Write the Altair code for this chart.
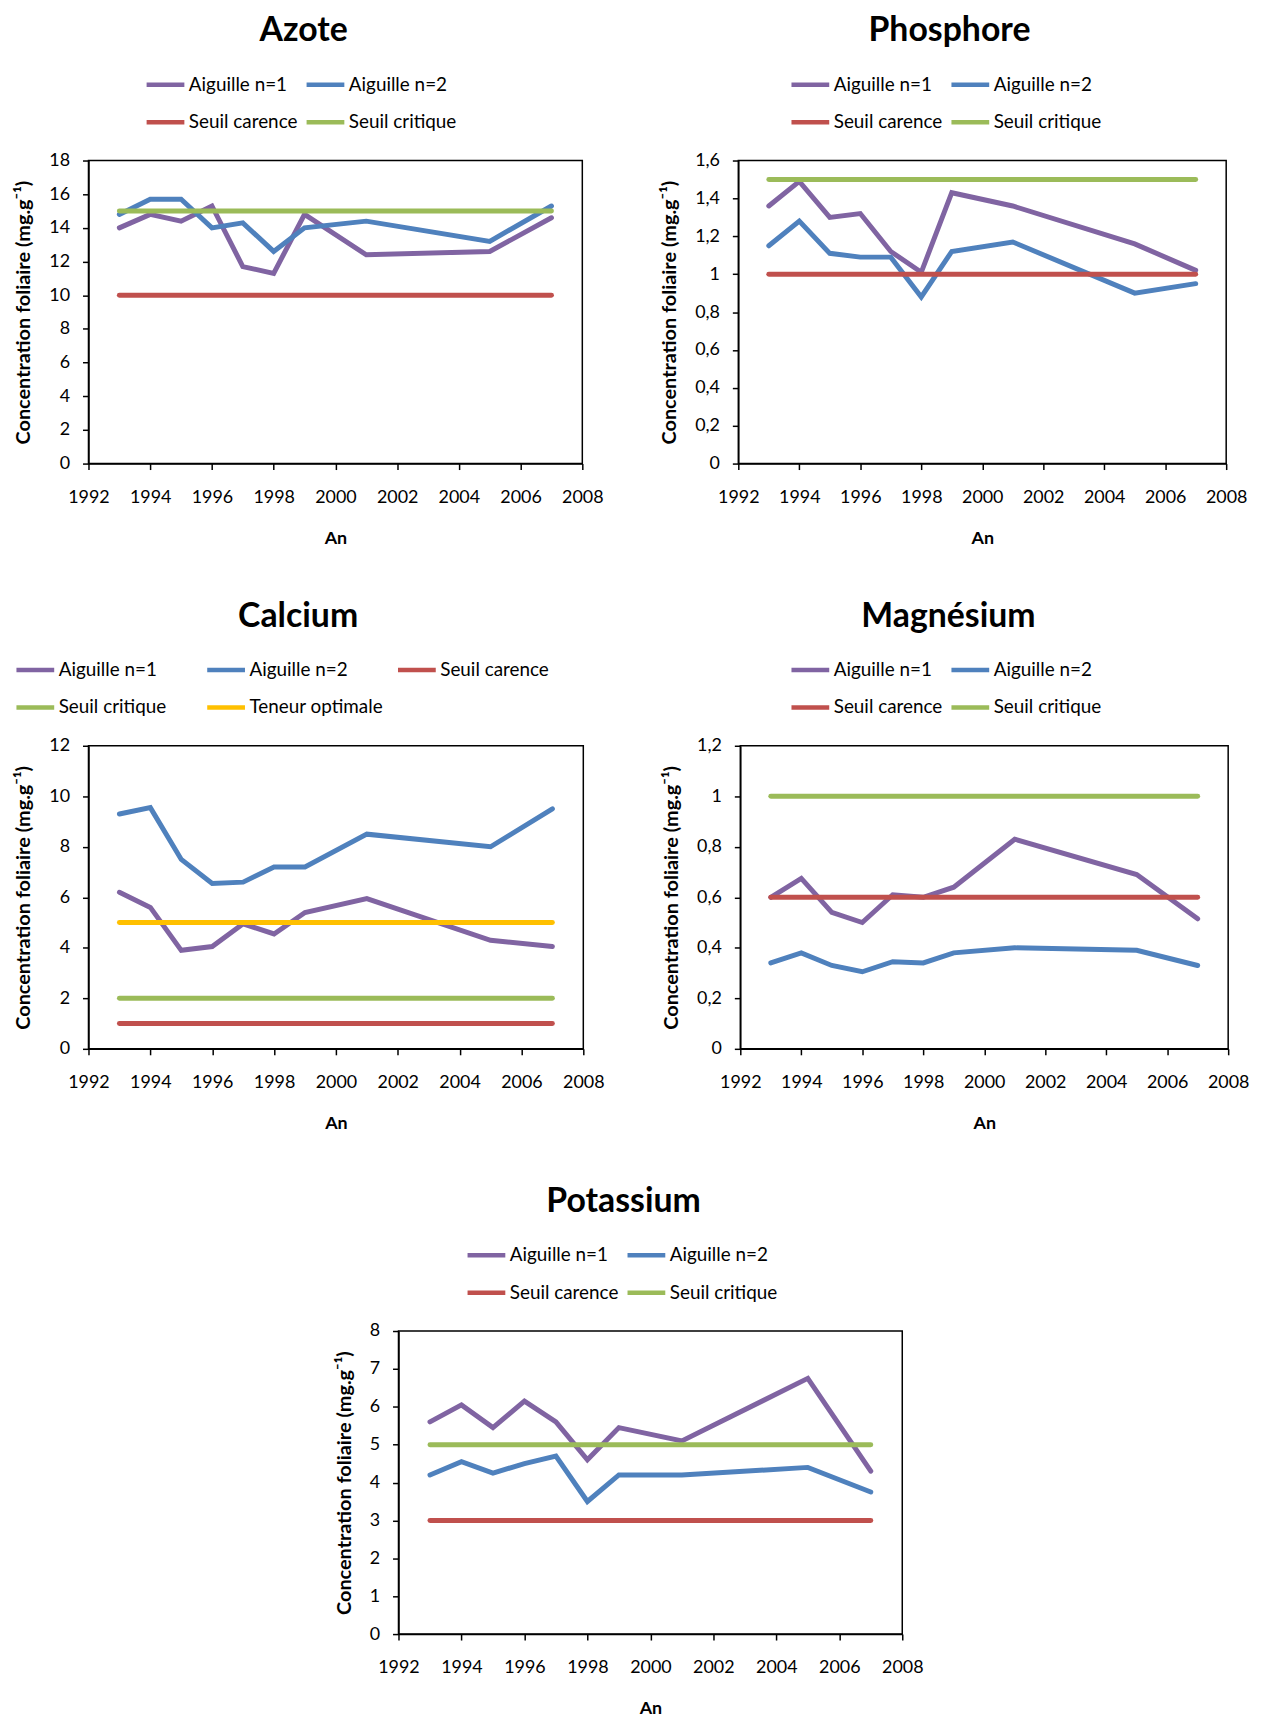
import altair as alt
import pandas as pd

years = [1993, 1994, 1995, 1996, 1997, 1998, 1999, 2001, 2005, 2007]
x_ticks = [1992, 1994, 1996, 1998, 2000, 2002, 2004, 2006, 2008]

# Azote
azote_n1 = [14.0, 14.8, 14.4, 15.3, 11.7, 11.3, 14.8, 12.4, 12.6, 14.6]
azote_n2 = [14.8, 15.7, 15.7, 14.0, 14.3, 12.6, 14.0, 14.4, 13.2, 15.3]
azote_thresholds = [("Seuil carence", 10), ("Seuil critique", 15)]
azote_ticks = [0, 2, 4, 6, 8, 10, 12, 14, 16, 18]

# Phosphore
phos_n1 = [1.36, 1.49, 1.30, 1.32, 1.12, 1.01, 1.43, 1.36, 1.16, 1.02]
phos_n2 = [1.15, 1.28, 1.11, 1.09, 1.09, 0.88, 1.12, 1.17, 0.90, 0.95]
phos_thresholds = [("Seuil carence", 1.0), ("Seuil critique", 1.5)]
phos_ticks = [0, 0.2, 0.4, 0.6, 0.8, 1.0, 1.2, 1.4, 1.6]

# Calcium
ca_n1 = [6.2, 5.6, 3.9, 4.05, 4.95, 4.55, 5.4, 5.95, 4.3, 4.05]
ca_n2 = [9.3, 9.55, 7.5, 6.55, 6.6, 7.2, 7.2, 8.5, 8.0, 9.5]
ca_thresholds = [("Seuil carence", 1), ("Seuil critique", 2), ("Teneur optimale", 5)]
ca_ticks = [0, 2, 4, 6, 8, 10, 12]

# Magnésium
mg_n1 = [0.60, 0.675, 0.54, 0.50, 0.61, 0.60, 0.64, 0.83, 0.69, 0.515]
mg_n2 = [0.34, 0.38, 0.33, 0.305, 0.345, 0.34, 0.38, 0.40, 0.39, 0.33]
mg_thresholds = [("Seuil carence", 0.6), ("Seuil critique", 1.0)]
mg_ticks = [0, 0.2, 0.4, 0.6, 0.8, 1.0, 1.2]

# Potassium
k_n1 = [5.6, 6.05, 5.45, 6.15, 5.6, 4.6, 5.45, 5.1, 6.75, 4.3]
k_n2 = [4.2, 4.55, 4.25, 4.5, 4.7, 3.5, 4.2, 4.2, 4.4, 3.75]
k_thresholds = [("Seuil carence", 3), ("Seuil critique", 5)]
k_ticks = [0, 1, 2, 3, 4, 5, 6, 7, 8]

COLORS = {
    "Aiguille n=1": "#8064A2",
    "Aiguille n=2": "#4F81BD",
    "Seuil carence": "#C0504D",
    "Seuil critique": "#9BBB59",
    "Teneur optimale": "#FFC000",
}

FONT = "Lato"


def panel(title, n1, n2, thresholds, yticks, width, height,
          legend_cols, legend_x, legend_y, title_dx, col_pad=-1, grid_align="each"):
    rows = []
    for y, v in zip(years, n1):
        rows.append({"year": y, "value": v, "series": "Aiguille n=1"})
    for y, v in zip(years, n2):
        rows.append({"year": y, "value": v, "series": "Aiguille n=2"})
    for name, val in thresholds:
        for y in years:
            rows.append({"year": y, "value": val, "series": name})
    df = pd.DataFrame(rows)
    names = ["Aiguille n=1", "Aiguille n=2"] + [n for n, _ in thresholds]

    color = alt.Color(
        "series:N",
        scale=alt.Scale(domain=names, range=[COLORS[n] for n in names]),
        legend=alt.Legend(
            title=None, orient="none", legendX=legend_x, legendY=legend_y,
            direction="horizontal", columns=legend_cols, symbolType="stroke",
            symbolSize=1444, symbolStrokeWidth=4.5, labelFontSize=19,
            labelFont=FONT, labelColor="black", labelOffset=2,
            columnPadding=col_pad, rowPadding=6, gridAlign=grid_align,
        ),
    )
    x = alt.X(
        "year:Q",
        scale=alt.Scale(domain=[1992, 2008], nice=False, zero=False),
        axis=alt.Axis(values=x_ticks, format="d", title="An", grid=False,
                      labelFontSize=18, titleFontSize=18, titleFontWeight="bold",
                      tickSize=6, labelPadding=19, titlePadding=23, labelFlush=False),
    )
    y = alt.Y(
        "value:Q",
        scale=alt.Scale(domain=[0, yticks[-1]], nice=False),
        axis=alt.Axis(values=yticks,
                      labelExpr="replace(format(datum.value, '.1~f'), '.', ',')",
                      title="Concentration foliaire (mg.g⁻¹)", grid=False,
                      labelFontSize=18, titleFontSize=20, titleFontWeight="bold",
                      tickSize=6, labelPadding=13, titlePadding=15, labelFlush=False),
    )
    base = alt.Chart(df).mark_line(strokeWidth=5, strokeCap="round").encode(
        x=x, y=y, color=color
    )
    layers = [base.transform_filter(alt.datum.series == n) for n in names]
    return alt.layer(*layers).properties(
        width=width, height=height,
        title=alt.TitleParams(title, fontSize=34, font=FONT, fontWeight="bold",
                              anchor="middle", dx=title_dx, offset=15),
    )


az = panel("Azote", azote_n1, azote_n2, azote_thresholds, azote_ticks,
           497, 305, 2, 56, -98, -32)
ph = panel("Phosphore", phos_n1, phos_n2, phos_thresholds, phos_ticks,
           491, 305, 2, 51, -98, -33)
ca = panel("Calcium", ca_n1, ca_n2, ca_thresholds, ca_ticks,
           498, 305, 3, -75, -98, -38, col_pad=5, grid_align="all")
mg = panel("Magnésium", mg_n1, mg_n2, mg_thresholds, mg_ticks,
           491, 305, 2, 49, -98, -36)
kk = panel("Potassium", k_n1, k_n2, k_thresholds, k_ticks,
           507, 305, 2, 67, -98, -27)

spacer = alt.Chart(pd.DataFrame({"a": [0]})).mark_point(opacity=0).encode(
    x=alt.X("a:Q", axis=None), y=alt.Y("a:Q", axis=None)
).properties(width=200, height=305, view=alt.ViewConfig(stroke="transparent"))

row1 = alt.hconcat(az, ph, spacing=157, bounds="flush").resolve_scale(color="independent")
row2 = alt.hconcat(ca, mg, spacing=158, bounds="flush").resolve_scale(color="independent")
row3 = alt.hconcat(spacer, kk, spacing=112, bounds="flush").resolve_scale(color="independent")

chart = alt.vconcat(row1, row2, row3, spacing=51).resolve_scale(
    color="independent"
).properties(
    padding={"left": 5, "top": 0, "right": 5, "bottom": 0}
).configure_view(
    stroke="black", strokeWidth=1.5
).configure_axis(
    domainColor="black", tickColor="black", labelColor="black", titleColor="black",
    labelFont=FONT, titleFont=FONT, domainWidth=1.5, tickWidth=1.5,
).configure_title(color="black")

chart.save("out.html", embed_options={"renderer": "svg", "actions": False})
